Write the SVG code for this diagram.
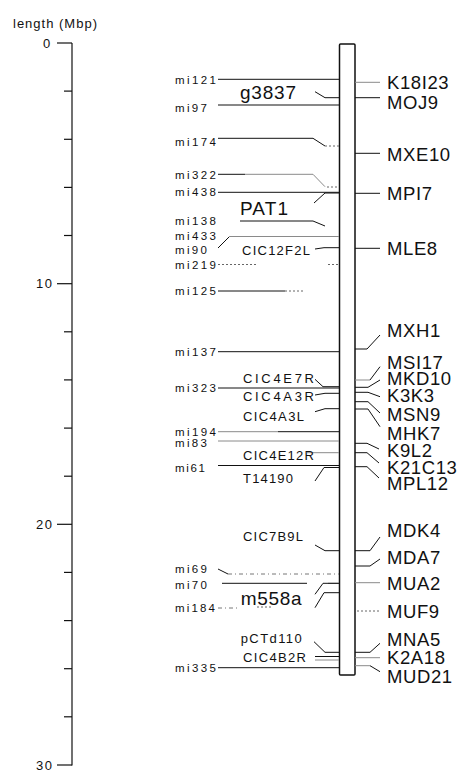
<svg xmlns="http://www.w3.org/2000/svg" width="462" height="772" viewBox="0 0 462 772">
<style>
text{font-family:"Liberation Sans",Arial,sans-serif;fill:#111}
.ax{font-size:13px}
.s{font-size:11.5px}
.m{font-size:13px}
.b{font-size:19px}
.r{font-size:18.5px;letter-spacing:0.6px}
.ln{stroke:#111;stroke-width:1;fill:none}
.g{stroke:#8a8a8a;stroke-width:1;fill:none}
.dt{stroke:#666;stroke-width:1;fill:none;stroke-dasharray:2 2}
.dd{stroke:#777;stroke-width:1;fill:none;stroke-dasharray:4 3 1 3}
.tk{stroke:#111;stroke-width:1.2}
</style>
<rect width="462" height="772" fill="#fff"/>
<g id="axis">
<text class="ax" x="13" y="28" textLength="84" lengthAdjust="spacing">length (Mbp)</text>
<line class="tk" x1="72" y1="43" x2="72" y2="765.5" stroke-width="1.5"/>
<line class="tk" x1="57" y1="43" x2="72" y2="43"/>
<line class="tk" x1="64" y1="91.1" x2="72" y2="91.1"/>
<line class="tk" x1="64" y1="139.3" x2="72" y2="139.3"/>
<line class="tk" x1="64" y1="187.4" x2="72" y2="187.4"/>
<line class="tk" x1="64" y1="235.5" x2="72" y2="235.5"/>
<line class="tk" x1="57" y1="283.7" x2="72" y2="283.7"/>
<line class="tk" x1="64" y1="331.8" x2="72" y2="331.8"/>
<line class="tk" x1="64" y1="379.9" x2="72" y2="379.9"/>
<line class="tk" x1="64" y1="428.1" x2="72" y2="428.1"/>
<line class="tk" x1="64" y1="476.2" x2="72" y2="476.2"/>
<line class="tk" x1="57" y1="524.3" x2="72" y2="524.3"/>
<line class="tk" x1="64" y1="572.4" x2="72" y2="572.4"/>
<line class="tk" x1="64" y1="620.6" x2="72" y2="620.6"/>
<line class="tk" x1="64" y1="668.7" x2="72" y2="668.7"/>
<line class="tk" x1="64" y1="716.8" x2="72" y2="716.8"/>
<line class="tk" x1="57" y1="765" x2="72" y2="765"/>
<text class="ax" x="43" y="47.5">0</text>
<text class="ax" x="36" y="288" textLength="16" lengthAdjust="spacing">10</text>
<text class="ax" x="36" y="529" textLength="16" lengthAdjust="spacing">20</text>
<text class="ax" x="36" y="769.5" textLength="16" lengthAdjust="spacing">30</text>
</g>
<g id="chromosome">
<rect x="339.5" y="44" width="15.5" height="631" rx="1" fill="#fff" stroke="#111" stroke-width="1.5"/>
</g>
<g id="connectors">
<path class="ln" d="M218 79.3H339"/>
<path class="ln" d="M315 91.7L325 97.7H339" stroke-width="0.8"/>
<path class="ln" d="M218 105H339" stroke-width="1.8"/>
<path class="ln" d="M218 138.3H313L325 146"/>
<path class="dt" d="M325 146H339"/>
<path class="ln" d="M218 174.3H245"/>
<path class="g" d="M245 174.3H313L325 186.7"/>
<path class="dt" d="M327 187H339"/>
<path class="ln" d="M218 192.3H339"/>
<path class="ln" d="M314 203L325 193H339"/>
<path class="ln" d="M240 221H313L325 226" stroke-width="0.9"/>
<path class="ln" d="M218 248L229 237"/>
<path class="g" d="M229 236.5H339" stroke="#aaa"/>
<path class="ln" d="M315 249L324 247.7H339"/>
<path class="dt" d="M218 264.5H258"/>
<path class="dt" d="M328 264.5H339"/>
<path class="ln" d="M218 291H285"/>
<path class="dt" d="M285 291H305"/>
<path class="ln" d="M218 351.7H339"/>
<path class="ln" d="M315 379.3L323 386.7H339"/>
<path class="ln" d="M218 388H339"/>
<path class="ln" d="M315 395L325 393.3H339"/>
<path class="ln" d="M315 411.7L325 408.7H339"/>
<path class="g" d="M218 431.7H278"/>
<path class="ln" d="M278 431.7H339" stroke-width="1.3"/>
<path class="g" d="M218 441H339"/>
<path class="g" d="M307 452.7H339"/>
<path class="ln" d="M218 465.5H339"/>
<path class="ln" d="M315 481L324 467.5H339"/>
<path class="ln" d="M315 545L325 550.7H339"/>
<path class="ln" d="M218 569L228 574"/>
<path class="dd" d="M228 574H339"/>
<path class="ln" d="M222 583.3H307"/>
<path class="g" d="M328 583.3H339"/>
<path class="ln" d="M315 594.3L323 583.3H339"/>
<path class="ln" d="M315 607.7L324 592.7H339"/>
<path class="dd" d="M218 608H240"/>
<path class="dt" d="M257 607H272"/>
<path class="ln" d="M314 641.7L325 652.3H339"/>
<path class="ln" d="M315 656.5H339"/>
<path class="g" d="M315 660H339"/>
<path class="ln" d="M218 667.7H339"/>
<path class="g" d="M355 82.3H380"/>
<path class="ln" d="M355 97.7H380"/>
<path class="ln" d="M355 153.3H380"/>
<path class="ln" d="M355 193.3H380" stroke-width="1.5"/>
<path class="ln" d="M355 248.3H380"/>
<path class="ln" d="M355 349H367L380 335"/>
<path class="g" d="M355 380H370" stroke="#ccc"/>
<path class="ln" d="M370 380L380 366.7"/>
<path class="ln" d="M355 387.3H368L380 380"/>
<path class="ln" d="M355 392.3H368L380 396.7"/>
<path class="ln" d="M355 401.7H368L380 413"/>
<path class="ln" d="M355 409H368L380 426.7"/>
<path class="ln" d="M355 443.3H367L379 449"/>
<path class="ln" d="M355 452.7H367L379 463"/>
<path class="ln" d="M355 466.7H367L379 478"/>
<path class="ln" d="M355 550.7H370L380 537"/>
<path class="ln" d="M355 566H370L380 559"/>
<path class="g" d="M355 582.7H380"/>
<path class="dt" d="M357 611H380"/>
<path class="ln" d="M355 652.3H370L380 643.3"/>
<path class="g" d="M355 657.7H380"/>
<path class="g" d="M355 665.7H370" stroke="#ccc"/>
<path class="ln" d="M370 665.7L380 671.7"/>
</g>
<g id="mi121"><text class="s" x="175" y="84" textLength="41" lengthAdjust="spacing">mi121</text></g>
<g id="g3837"><text class="b" x="240" y="98.5" textLength="56" lengthAdjust="spacing">g3837</text></g>
<g id="mi97"><text class="s" x="175" y="112" textLength="32" lengthAdjust="spacing">mi97</text></g>
<g id="mi174"><text class="s" x="175" y="145.8" textLength="41" lengthAdjust="spacing">mi174</text></g>
<g id="mi322"><text class="s" x="175" y="179" textLength="41" lengthAdjust="spacing">mi322</text></g>
<g id="mi438"><text class="s" x="175" y="196.4" textLength="41" lengthAdjust="spacing">mi438</text></g>
<g id="PAT1"><text class="b" x="240" y="215" textLength="48" lengthAdjust="spacing">PAT1</text></g>
<g id="mi138"><text class="s" x="175" y="225" textLength="41" lengthAdjust="spacing">mi138</text></g>
<g id="mi433"><text class="s" x="175" y="240" textLength="41" lengthAdjust="spacing">mi433</text></g>
<g id="mi90"><text class="s" x="175" y="254" textLength="32" lengthAdjust="spacing">mi90</text></g>
<g id="CIC12F2L"><text class="m" x="242" y="254.7" textLength="68" lengthAdjust="spacing">CIC12F2L</text></g>
<g id="mi219"><text class="s" x="175" y="269" textLength="41" lengthAdjust="spacing">mi219</text></g>
<g id="mi125"><text class="s" x="175" y="294.8" textLength="41" lengthAdjust="spacing">mi125</text></g>
<g id="mi137"><text class="s" x="175" y="355.8" textLength="41" lengthAdjust="spacing">mi137</text></g>
<g id="CIC4E7R"><text class="m" x="243" y="383" textLength="71" lengthAdjust="spacing">CIC4E7R</text></g>
<g id="mi323"><text class="s" x="175" y="392.4" textLength="41" lengthAdjust="spacing">mi323</text></g>
<g id="CIC4A3R"><text class="m" x="243" y="401.4" textLength="71" lengthAdjust="spacing">CIC4A3R</text></g>
<g id="CIC4A3L"><text class="m" x="243" y="420.7" textLength="61" lengthAdjust="spacing">CIC4A3L</text></g>
<g id="mi194"><text class="s" x="175" y="435.8" textLength="41" lengthAdjust="spacing">mi194</text></g>
<g id="mi83"><text class="s" x="175" y="447.4" textLength="32" lengthAdjust="spacing">mi83</text></g>
<g id="CIC4E12R"><text class="m" x="243" y="459.7" textLength="71" lengthAdjust="spacing">CIC4E12R</text></g>
<g id="mi61"><text class="s" x="175" y="471.8" textLength="30" lengthAdjust="spacing">mi61</text></g>
<g id="T14190"><text class="m" x="243" y="483" textLength="50" lengthAdjust="spacing">T14190</text></g>
<g id="CIC7B9L"><text class="m" x="243" y="541.4" textLength="60" lengthAdjust="spacing">CIC7B9L</text></g>
<g id="mi69"><text class="s" x="175" y="573.4" textLength="32" lengthAdjust="spacing">mi69</text></g>
<g id="mi70"><text class="s" x="175" y="589" textLength="32" lengthAdjust="spacing">mi70</text></g>
<g id="m558a"><text class="b" x="240.7" y="605" textLength="61" lengthAdjust="spacing">m558a</text></g>
<g id="mi184"><text class="s" x="175" y="612.4" textLength="40" lengthAdjust="spacing">mi184</text></g>
<g id="pCTd110"><text class="m" x="240.7" y="643" textLength="61" lengthAdjust="spacing">pCTd110</text></g>
<g id="CIC4B2R"><text class="m" x="243" y="662.4" textLength="63" lengthAdjust="spacing">CIC4B2R</text></g>
<g id="mi335"><text class="s" x="175" y="672.4" textLength="41" lengthAdjust="spacing">mi335</text></g>
<g id="K18I23"><text class="r" x="387" y="88.5">K18I23</text></g>
<g id="MOJ9"><text class="r" x="387" y="108.5">MOJ9</text></g>
<g id="MXE10"><text class="r" x="387" y="160.8">MXE10</text></g>
<g id="MPI7"><text class="r" x="387" y="199.8">MPI7</text></g>
<g id="MLE8"><text class="r" x="387" y="254.8">MLE8</text></g>
<g id="MXH1"><text class="r" x="387" y="336.8">MXH1</text></g>
<g id="MSI17"><text class="r" x="387" y="368.5">MSI17</text></g>
<g id="MKD10"><text class="r" x="387" y="384.8">MKD10</text></g>
<g id="K3K3"><text class="r" x="387" y="401.8">K3K3</text></g>
<g id="MSN9"><text class="r" x="387" y="420.8">MSN9</text></g>
<g id="MHK7"><text class="r" x="387" y="439.8">MHK7</text></g>
<g id="K9L2"><text class="r" x="387" y="456.8">K9L2</text></g>
<g id="K21C13"><text class="r" x="387" y="473.5">K21C13</text></g>
<g id="MPL12"><text class="r" x="387" y="489.8">MPL12</text></g>
<g id="MDK4"><text class="r" x="387" y="536.8">MDK4</text></g>
<g id="MDA7"><text class="r" x="387" y="563.5">MDA7</text></g>
<g id="MUA2"><text class="r" x="387" y="590">MUA2</text></g>
<g id="MUF9"><text class="r" x="387" y="617.8">MUF9</text></g>
<g id="MNA5"><text class="r" x="387" y="646">MNA5</text></g>
<g id="K2A18"><text class="r" x="387" y="663.5">K2A18</text></g>
<g id="MUD21"><text class="r" x="387" y="682.8">MUD21</text></g>
</svg>
